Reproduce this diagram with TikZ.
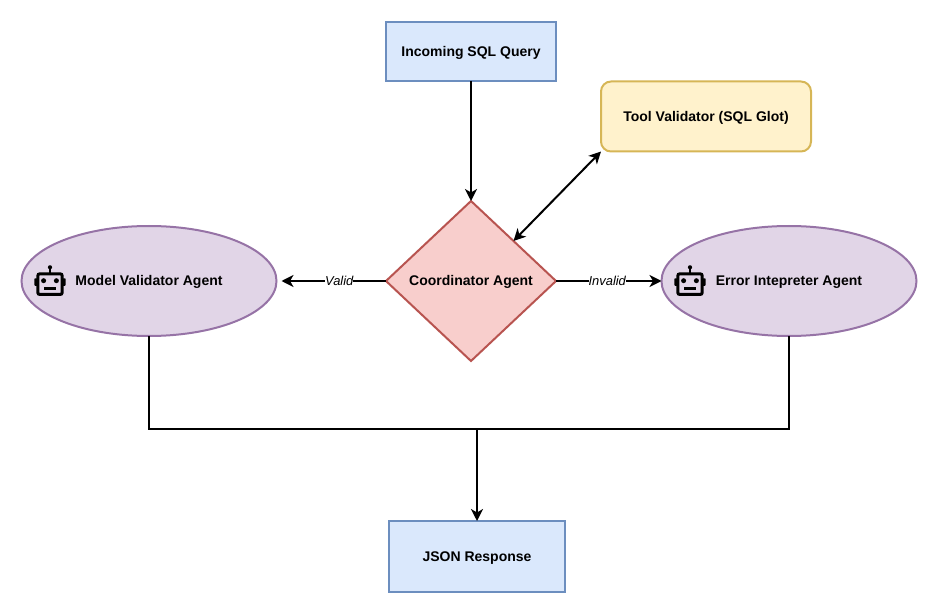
\documentclass[tikz,border=0pt]{standalone}
\usepackage{fontspec}
\setmainfont{Liberation Sans}
\usetikzlibrary{shapes.geometric,arrows.meta,calc}
\definecolor{bluefill}{HTML}{DAE8FC}
\definecolor{blueline}{HTML}{6C8EBF}
\definecolor{yellowfill}{HTML}{FFF2CC}
\definecolor{yellowline}{HTML}{D6B656}
\definecolor{redfill}{HTML}{F8CECC}
\definecolor{redline}{HTML}{B85450}
\definecolor{purplefill}{HTML}{E1D5E7}
\definecolor{purpleline}{HTML}{9673A6}
\tikzset{
  x=1pt,y=-1pt,
  shapebase/.style={line width=2pt,inner sep=0pt,outer sep=0pt,text depth=0pt,text height=10pt,font=\fontsize{14}{16}\selectfont\bfseries,text=black},
  bluebox/.style={shapebase,rectangle,draw=blueline,fill=bluefill},
  toolbox/.style={shapebase,rectangle,rounded corners=10pt,draw=yellowline,fill=yellowfill,minimum width=210pt,minimum height=70pt},
  coordbox/.style={shapebase,diamond,draw=redline,fill=redfill,minimum width=170pt,minimum height=160pt},
  agentbox/.style={shapebase,ellipse,draw=purpleline,fill=purplefill,minimum width=255pt,minimum height=110pt},
  link/.style={line width=2pt,draw=black,-{Stealth[length=12pt,width=12pt,inset=3.5pt]}},
  bilink/.style={link,{Stealth[length=12pt,width=12pt,inset=3.5pt]}-{Stealth[length=12pt,width=12pt,inset=3.5pt]}},
  plainlink/.style={line width=2pt,draw=black},
  edgelabel/.style={fill=white,inner sep=0pt,text depth=0pt,text height=9.5pt,font=\fontsize{12.9}{15}\selectfont\itshape},
  robot/.pic={
    \draw[line width=3pt,rounded corners=2pt,black] (-12.2,-7.7) rectangle (12.2,13);
    \fill[black,rounded corners=0.8pt] (-15.7,-3.2) rectangle (-12,4.3);
    \fill[black,rounded corners=0.8pt] (12,-3.2) rectangle (15.7,4.3);
    \draw[line width=2.2pt,black] (0,-14) -- (0,-8);
    \fill[black] (0,-14.2) circle (2.1pt);
    \fill[black] (-6.4,-0.8) circle (2.5pt);
    \fill[black] (6.4,-0.8) circle (2.5pt);
    \draw[line width=2.5pt,black] (-5.6,7) -- (5.6,7);
  }
}
\begin{document}
\begin{tikzpicture}
\useasboundingbox (0,0) rectangle (937,612);
\node[bluebox,minimum width=170pt,minimum height=59pt] (query) at (471,51.5) {Incoming SQL Query};
\node[toolbox] (tool) at (706,116.5) {Tool Validator (SQL Glot)};
\node[coordbox] (coord) at (471,281) {Coordinator Agent};
\node[agentbox] (model) at (149,281) {Model Validator Agent};
\node[agentbox] (error) at (789,281) {Error Intepreter Agent};
\node[bluebox,minimum width=176pt,minimum height=71pt] (json) at (477,556.5) {JSON Response};
\coordinate (merge) at (477,429);
\coordinate (coordne) at ($(coord.north)!0.5!(coord.east)$);
\pic at (50,281.5) {robot};
\pic at (690,281.5) {robot};
\draw[link] (query.south) -- (coord.north);
\draw[bilink] (coordne) -- (tool.south west);
\draw[link,shorten >=5pt] (coord.west) -- node[edgelabel,pos=0.427] (valid) {Valid} (model.east);
\draw[link] (coord.east) -- node[edgelabel,pos=0.486] (invalid) {Invalid} (error.west);
\draw[plainlink] (model.south) |- (merge);
\draw[plainlink] (error.south) |- (merge);
\draw[link] (merge) -- (json.north);
\end{tikzpicture}
\end{document}
